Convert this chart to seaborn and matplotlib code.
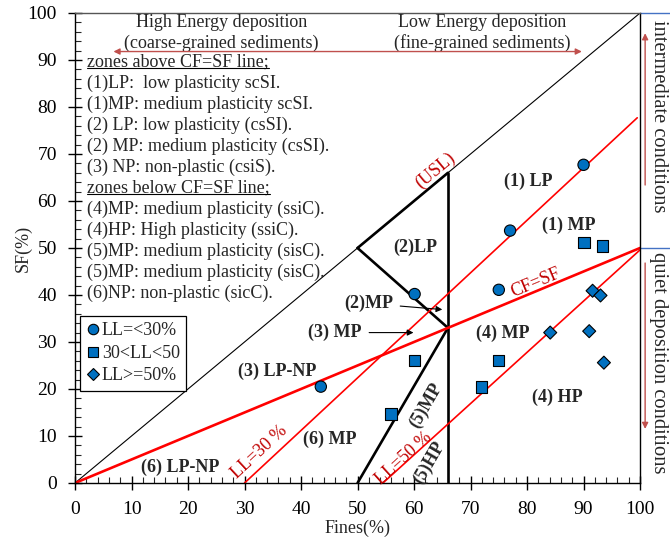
import numpy as np
import pandas as pd
import matplotlib
matplotlib.use("Agg")
import matplotlib.pyplot as plt
from matplotlib.ticker import MultipleLocator
from matplotlib.lines import Line2D
import seaborn as sns

# ---------------- data ----------------
group_labels = ["LL=<30%", "30<LL<50", "LL>=50%"]
low_fines = [90.0, 77.0, 75.0, 60.1, 43.5]
low_sf = [67.7, 53.7, 41.1, 40.2, 20.5]
mid_fines = [90.1, 93.3, 75.0, 72.0, 60.1, 55.9]
mid_sf = [51.1, 50.4, 26.0, 20.4, 26.0, 14.7]
high_fines = [91.6, 93.0, 84.1, 91.0, 93.6]
high_sf = [40.9, 39.9, 32.0, 32.3, 25.6]

# reference / classification lines
usl_x, usl_y = [0, 100], [0, 100]
cfsf_x, cfsf_y = [0, 100], [0, 50]
ll30_x, ll30_y = [30, 99.5], [0, 77.7]
ll50_x, ll50_y = [54.5, 100], [0, 49.6]
zone_lines = [
    ([50, 66], [50, 66]),
    ([50, 66], [50, 33]),
    ([66, 66], [0, 66]),
    ([50, 66], [0, 33]),
]

legend_notes = [
    "zones above CF=SF line;",
    "(1)LP:  low plasticity scSI.",
    "(1)MP: medium plasticity scSI.",
    "(2) LP: low plasticity (csSI).",
    "(2) MP: medium plasticity (csSI).",
    "(3) NP: non-plastic (csiS).",
    "zones below CF=SF line;",
    "(4)MP: medium plasticity (ssiC).",
    "(4)HP: High plasticity (ssiC).",
    "(5)MP: medium plasticity (sisC).",
    "(5)MP: medium plasticity (sisC).",
    "(6)NP: non-plastic (sicC).",
]

df = pd.DataFrame({
    "Fines": low_fines + mid_fines + high_fines,
    "SF": low_sf + mid_sf + high_sf,
    "group": [group_labels[0]] * len(low_fines)
    + [group_labels[1]] * len(mid_fines)
    + [group_labels[2]] * len(high_fines),
})

# ---------------- style ----------------
sns.set_style("ticks")
plt.rcParams["font.family"] = ["Liberation Serif", "DejaVu Serif"]
FS = 13
TFS = 14
RED = "#FF0000"
DRED = "#C00000"
ARED = "#C0504D"
BLUE = "#0070C0"

fig = plt.figure(figsize=(6.7, 5.37), dpi=100)
ax = fig.add_axes([0.112, 0.1006, 0.8433, 0.8752])

def draw_line(x, y, color, lw):
    sns.lineplot(x=x, y=y, sort=False, estimator=None, color=color, lw=lw, ax=ax)

draw_line(usl_x, usl_y, "black", 0.8)
for zx, zy in zone_lines:
    draw_line(zx, zy, "black", 1.9)
draw_line(cfsf_x, cfsf_y, RED, 1.9)
draw_line(ll30_x, ll30_y, RED, 1.2)
draw_line(ll50_x, ll50_y, RED, 1.2)

# points
sns.scatterplot(data=df, x="Fines", y="SF", style="group", size="group",
                markers={group_labels[0]: "o", group_labels[1]: "s", group_labels[2]: "D"},
                sizes={group_labels[0]: 66, group_labels[1]: 66, group_labels[2]: 44},
                style_order=group_labels, size_order=group_labels,
                color=BLUE, edgecolor="black",
                linewidth=0.8, ax=ax, zorder=5)

handles, labels = ax.get_legend_handles_labels()
hl = []
seen = set()
for h, l in zip(handles, labels):
    if l in group_labels and l not in seen:
        seen.add(l)
        hl.append((h, l))
msz = {group_labels[0]: 7.5, group_labels[1]: 7.5, group_labels[2]: 6.5}
for h, l in hl:
    try:
        h.set_markerfacecolor(BLUE)
        h.set_markeredgecolor("black")
        h.set_markersize(msz[l])
    except Exception:
        pass
leg = ax.legend([h for h, _ in hl], [l for _, l in hl], loc="upper left",
                bbox_to_anchor=(0.009, 0.355), frameon=True, fancybox=False,
                edgecolor="black", fontsize=FS, handletextpad=0.15,
                labelspacing=0.3, borderpad=0.35, handlelength=0.7,
                borderaxespad=0)
leg.get_frame().set_linewidth(0.9)
leg.get_frame().set_alpha(1)

# axes
ax.set_xlim(0, 100)
ax.set_ylim(0, 100)
ax.set_xticks(range(0, 101, 10))
ax.set_yticks(range(0, 101, 10))
ax.xaxis.set_minor_locator(MultipleLocator(2))
ax.yaxis.set_minor_locator(MultipleLocator(2))
ax.tick_params(which="major", direction="inout", length=10, width=1, labelsize=TFS,
               top=False, right=False, colors="black", pad=8)
ax.tick_params(which="minor", direction="in", length=4, width=0.8,
               top=False, right=False)
for sp in ax.spines.values():
    sp.set_visible(True)
    sp.set_color("black")
    sp.set_linewidth(1.0)
ax.spines["top"].set_color("#555555")
ax.set_xlabel("Fines(%)", fontsize=FS, labelpad=1)
ax.set_ylabel("SF(%)", fontsize=FS, labelpad=-3)

# header texts
ax.text(25.9, 97.9, "High Energy deposition", ha="center", va="center", fontsize=FS)
ax.text(25.9, 93.6, "(coarse-grained sediments)", ha="center", va="center", fontsize=FS)
ax.text(72.0, 97.9, "Low Energy deposition", ha="center", va="center", fontsize=FS)
ax.text(72.0, 93.6, "(fine-grained sediments)", ha="center", va="center", fontsize=FS)
ax.annotate("", xy=(6.8, 91.8), xytext=(89.7, 91.8),
            arrowprops=dict(arrowstyle="<|-|>", color=ARED, lw=1.0,
                            mutation_scale=9, shrinkA=0, shrinkB=0))

# notes list
note_texts = []
for i, s in enumerate(legend_notes):
    t = ax.text(2.2, 89.6 - i * 4.47, s, ha="left", va="center", fontsize=FS)
    note_texts.append(t)

# zone labels (bold)
bold = dict(fontsize=FS, fontweight="bold", ha="center", va="center")
ax.text(80.2, 64.1, "(1) LP", **bold)
ax.text(87.3, 54.9, "(1) MP", **bold)
ax.text(60.2, 50.1, "(2)LP", **bold)
ax.text(75.7, 31.9, "(4) MP", **bold)
ax.text(85.4, 18.2, "(4) HP", **bold)
ax.text(35.8, 23.7, "(3) LP-NP", **bold)
ax.text(45.1, 9.3, "(6) MP", **bold)
ax.text(18.6, 3.3, "(6) LP-NP", **bold)
ax.text(62.2, 16.4, "(5)MP", rotation=59.8, **bold)
ax.text(62.7, 4.3, "(5)HP", rotation=59.8, **bold)
ax.annotate("(2)MP", xy=(65.0, 36.9), xytext=(51.9, 38.2), ha="center", va="center",
            fontsize=FS, fontweight="bold",
            arrowprops=dict(arrowstyle="-|>", color="black", lw=0.8,
                            mutation_scale=9, shrinkA=3, shrinkB=0))
ax.annotate("(3) MP", xy=(59.9, 32.0), xytext=(46.0, 32.0), ha="center", va="center",
            fontsize=FS, fontweight="bold",
            arrowprops=dict(arrowstyle="-|>", color="black", lw=0.8,
                            mutation_scale=9, shrinkA=3, shrinkB=0))

# red line labels
ax.text(63.7, 66.4, "(USL)", color=DRED, fontsize=FS, rotation=39.8, ha="center", va="center")
ax.text(81.6, 42.5, "CF=SF", color=DRED, fontsize=FS, rotation=22.6, ha="center", va="center")
ax.text(32.6, 6.5, "LL=30 %", color=DRED, fontsize=FS, rotation=42.9, ha="center", va="center")
ax.text(58.1, 5.3, "LL=50 %", color=DRED, fontsize=FS, rotation=42.2, ha="center", va="center")

# right side annotations
ax.plot([100, 105.4], [100, 100], color="#4472C4", lw=1.0, clip_on=False)
ax.plot([100, 105.4], [50, 50], color="#4472C4", lw=1.0, clip_on=False)
ax.annotate("", xy=(100.9, 95.7), xytext=(100.9, 63.4), annotation_clip=False,
            arrowprops=dict(arrowstyle="-|>", color=ARED, lw=1.0,
                            mutation_scale=9, shrinkA=0, shrinkB=0))
ax.annotate("", xy=(100.9, 11.5), xytext=(100.9, 46.8), annotation_clip=False,
            arrowprops=dict(arrowstyle="-|>", color=ARED, lw=1.0,
                            mutation_scale=9, shrinkA=0, shrinkB=0))
ax.text(103.3, 98.5, "intermediate conditions", rotation=-90, ha="center", va="top",
        fontsize=14.8, clip_on=False)
ax.text(103.3, 49.2, "quiet deposition conditions", rotation=-90, ha="center", va="top",
        fontsize=14.8, clip_on=False)

# underline the two heading lines
fig.canvas.draw()
renderer = fig.canvas.get_renderer()
W, H = fig.bbox.width, fig.bbox.height
for idx in (0, 6):
    bb = note_texts[idx].get_window_extent(renderer)
    y = bb.y0 + 2.5
    fig.add_artist(Line2D([bb.x0 / W, bb.x1 / W], [y / H, y / H],
                          transform=fig.transFigure, color="black", lw=0.8))

fig.savefig("out.png", dpi=100)
